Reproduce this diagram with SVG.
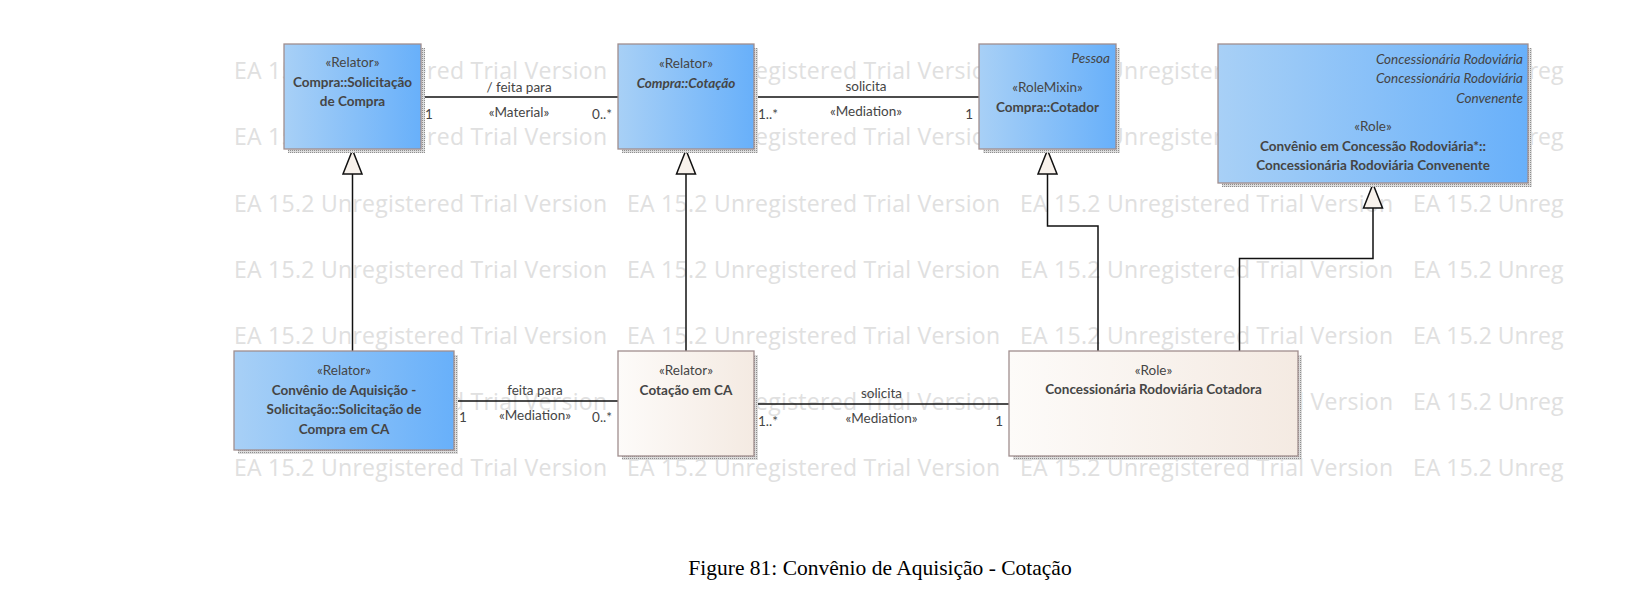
<svg xmlns="http://www.w3.org/2000/svg" width="1652" height="616" viewBox="0 0 1652 616">
<style>
  .wm { font-family: "Open Sans", "Liberation Sans", sans-serif; font-size: 23px; fill: #e0e0e0; }
  .t { font-family: Lato, "Liberation Sans", sans-serif; font-size: 13.5px; fill: #454545; }
  .b { font-weight: bold; }
  .i { font-style: italic; }
  .m { text-anchor: middle; }
  .e { text-anchor: end; }
  .box { stroke: #a08e8e; stroke-width: 1.3; }
  .blue { fill: url(#gBlue); }
  .light { fill: url(#gLight); }
  .sh { fill: url(#dots); }
  .ln { fill: none; stroke: #111; stroke-width: 1.5; }
  .gen { marker-end: url(#tri); }
  .cap { font-family: "Liberation Serif", "Times New Roman", serif; font-size: 21.5px; fill: #000; }
</style>
<defs>
  <linearGradient id="gBlue" x1="0" y1="0" x2="1" y2="0">
    <stop offset="0" stop-color="#a8d0f6"/>
    <stop offset="1" stop-color="#68b0fa"/>
  </linearGradient>
  <linearGradient id="gLight" x1="0" y1="0" x2="1" y2="0">
    <stop offset="0" stop-color="#fdfbf9"/>
    <stop offset="1" stop-color="#f4eae2"/>
  </linearGradient>
  <pattern id="dots" width="2" height="2" patternUnits="userSpaceOnUse">
    <rect width="2" height="2" fill="#dcdcdc"/>
    <rect width="1" height="1" fill="#8e8e8e"/>
  </pattern>
  <marker id="tri" markerUnits="userSpaceOnUse" viewBox="-25 -11 26 22" refX="0" refY="0" markerWidth="26" markerHeight="22" orient="auto">
    <path d="M0,0 L-24,-9.5 L-24,9.5 Z" fill="#f8f2ec" stroke="#111" stroke-width="1.5" stroke-linejoin="miter"/>
  </marker>
</defs>
<rect width="1652" height="616" fill="#fff"/>

<g id="watermark" class="wm">
  <text x="234" y="79" textLength="373">EA 15.2 Unregistered Trial Version</text>
  <text x="627" y="79" textLength="373">EA 15.2 Unregistered Trial Version</text>
  <text x="1020" y="79" textLength="373">EA 15.2 Unregistered Trial Version</text>
  <text x="1413" y="79">EA 15.2 Unreg</text>
  <text x="234" y="145" textLength="373">EA 15.2 Unregistered Trial Version</text>
  <text x="627" y="145" textLength="373">EA 15.2 Unregistered Trial Version</text>
  <text x="1020" y="145" textLength="373">EA 15.2 Unregistered Trial Version</text>
  <text x="1413" y="145">EA 15.2 Unreg</text>
  <text x="234" y="211.5" textLength="373">EA 15.2 Unregistered Trial Version</text>
  <text x="627" y="211.5" textLength="373">EA 15.2 Unregistered Trial Version</text>
  <text x="1020" y="211.5" textLength="373">EA 15.2 Unregistered Trial Version</text>
  <text x="1413" y="211.5">EA 15.2 Unreg</text>
  <text x="234" y="277.5" textLength="373">EA 15.2 Unregistered Trial Version</text>
  <text x="627" y="277.5" textLength="373">EA 15.2 Unregistered Trial Version</text>
  <text x="1020" y="277.5" textLength="373">EA 15.2 Unregistered Trial Version</text>
  <text x="1413" y="277.5">EA 15.2 Unreg</text>
  <text x="234" y="343.5" textLength="373">EA 15.2 Unregistered Trial Version</text>
  <text x="627" y="343.5" textLength="373">EA 15.2 Unregistered Trial Version</text>
  <text x="1020" y="343.5" textLength="373">EA 15.2 Unregistered Trial Version</text>
  <text x="1413" y="343.5">EA 15.2 Unreg</text>
  <text x="234" y="409.5" textLength="373">EA 15.2 Unregistered Trial Version</text>
  <text x="627" y="409.5" textLength="373">EA 15.2 Unregistered Trial Version</text>
  <text x="1020" y="409.5" textLength="373">EA 15.2 Unregistered Trial Version</text>
  <text x="1413" y="409.5">EA 15.2 Unreg</text>
  <text x="234" y="475.5" textLength="373">EA 15.2 Unregistered Trial Version</text>
  <text x="627" y="475.5" textLength="373">EA 15.2 Unregistered Trial Version</text>
  <text x="1020" y="475.5" textLength="373">EA 15.2 Unregistered Trial Version</text>
  <text x="1413" y="475.5">EA 15.2 Unreg</text>
</g>

<g id="connectors">
  <path class="ln" d="M421,97 H618"/>
  <path class="ln" d="M754,97 H979"/>
  <path class="ln" d="M454,401 H618"/>
  <path class="ln" d="M754,404 H1009"/>
  <path class="ln gen" d="M352.5,351 V150"/>
  <path class="ln gen" d="M686,351 V150"/>
  <path class="ln gen" d="M1098,351 V226 H1047.5 V150"/>
  <path class="ln gen" d="M1239.5,351 V258.5 H1373 V184"/>
  <g class="t">
    <text class="m" x="519" y="91.5">/ feita para</text>
    <text class="m" x="519" y="116.5">«Material»</text>
    <text x="425" y="119">1</text>
    <text class="e" x="612" y="119">0..*</text>
    <text class="m" x="866" y="91">solicita</text>
    <text class="m" x="866" y="116">«Mediation»</text>
    <text x="758" y="119">1..*</text>
    <text class="e" x="973" y="119">1</text>
    <text class="m" x="535" y="395">feita para</text>
    <text class="m" x="535" y="420">«Mediation»</text>
    <text x="459" y="422">1</text>
    <text class="e" x="612" y="422">0..*</text>
    <text class="m" x="881.5" y="398">solicita</text>
    <text class="m" x="881.5" y="422.5">«Mediation»</text>
    <text x="758" y="425.5">1..*</text>
    <text class="e" x="1003" y="426">1</text>
  </g>
</g>

<g id="node-solicitacao-compra">
  <rect class="sh" x="288" y="48" width="137" height="105"/>
  <rect class="box blue" x="284" y="44" width="137" height="105"/>
  <text class="t m" x="352.5" y="67">«Relator»</text>
  <text class="t m b" x="352.5" y="87">Compra::Solicitação</text>
  <text class="t m b" x="352.5" y="106">de Compra</text>
</g>

<g id="node-cotacao">
  <rect class="sh" x="622" y="48" width="136" height="105"/>
  <rect class="box blue" x="618" y="44" width="136" height="105"/>
  <text class="t m" x="686" y="67.5">«Relator»</text>
  <text class="t m b i" x="686" y="87.5">Compra::Cotação</text>
</g>

<g id="node-cotador">
  <rect class="sh" x="983" y="48" width="137" height="105"/>
  <rect class="box blue" x="979" y="44" width="137" height="105"/>
  <text class="t e i" x="1110" y="63">Pessoa</text>
  <text class="t m" x="1047.5" y="92">«RoleMixin»</text>
  <text class="t m b" x="1047.5" y="111.5">Compra::Cotador</text>
</g>

<g id="node-concessionaria-convenente">
  <rect class="sh" x="1222" y="48" width="310" height="139"/>
  <rect class="box blue" x="1218" y="44" width="310" height="139"/>
  <text class="t e i" x="1523" y="63.5">Concessionária Rodoviária</text>
  <text class="t e i" x="1523" y="83">Concessionária Rodoviária</text>
  <text class="t e i" x="1523" y="102.5">Convenente</text>
  <text class="t m" x="1373" y="131">«Role»</text>
  <text class="t m b" x="1373" y="151">Convênio em Concessão Rodoviária*::</text>
  <text class="t m b" x="1373" y="170">Concessionária Rodoviária Convenente</text>
</g>

<g id="node-solicitacao-ca">
  <rect class="sh" x="238" y="355" width="220" height="99"/>
  <rect class="box blue" x="234" y="351" width="220" height="99"/>
  <text class="t m" x="344" y="375">«Relator»</text>
  <text class="t m b" x="344" y="394.5">Convênio de Aquisição -</text>
  <text class="t m b" x="344" y="414">Solicitação::Solicitação de</text>
  <text class="t m b" x="344" y="433.5">Compra em CA</text>
</g>

<g id="node-cotacao-ca">
  <rect class="sh" x="622" y="355" width="136" height="105"/>
  <rect class="box light" x="618" y="351" width="136" height="105"/>
  <text class="t m" x="686" y="375">«Relator»</text>
  <text class="t m b" x="686" y="394.5">Cotação em CA</text>
</g>

<g id="node-concessionaria-cotadora">
  <rect class="sh" x="1013" y="355" width="289" height="105"/>
  <rect class="box light" x="1009" y="351" width="289" height="105"/>
  <text class="t m" x="1153.5" y="375">«Role»</text>
  <text class="t m b" x="1153.5" y="394">Concessionária Rodoviária Cotadora</text>
</g>

<text class="cap" x="880" y="575" text-anchor="middle">Figure 81: Convênio de Aquisição - Cotação</text>
</svg>
